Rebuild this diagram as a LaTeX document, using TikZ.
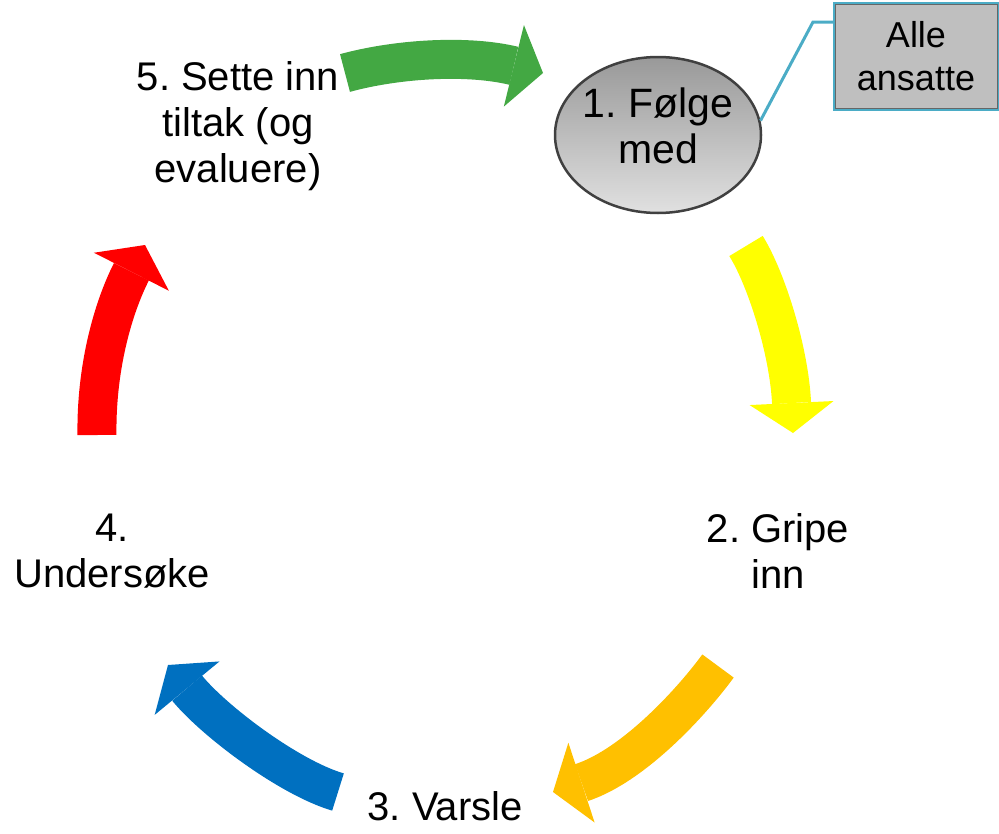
\documentclass[tikz,border=0pt]{standalone}
\usepackage{fontspec}
\setmainfont{Liberation Sans}
\usetikzlibrary{arrows.meta,shapes.geometric}
\definecolor{stepgreen}{HTML}{43A843}
\definecolor{stepyellow}{HTML}{FFFF00}
\definecolor{steporange}{HTML}{FFC000}
\definecolor{stepblue}{HTML}{0070C0}
\definecolor{stepred}{HTML}{FF0000}
\definecolor{calloutblue}{HTML}{4BACC6}
\frenchspacing
\begin{document}
\begin{tikzpicture}[x=1pt,y=-1pt,
	ringarrow/.style={line width=39pt, -{Triangle[length=30pt,width=84pt,line width=0pt]}},
	steptext/.style={align=center, inner sep=0pt, font=\fontsize{40}{46}\selectfont}]%
	\useasboundingbox (0,0) rectangle (999,833);
	\node[ellipse, draw=black!75, line width=2.5pt, top color=black!40, bottom color=black!12,
		minimum width=206pt, minimum height=156pt] (folge) at (658,135) {};
	\node[steptext, font=\fontsize{41}{46}\selectfont] (folgetext) at ([yshift=9pt]folge.center) {1. Følge\\med};
	\node[steptext] (gripe) at (778,551) {2. Gripe\\inn};
	\node[steptext] (varsle) at (445,806) {3. Varsle};
	\node[steptext] (under) at (112,551) {4.\\Undersøke};
	\node[steptext] (sette) at (238,126) {5. Sette inn\\tiltak (og\\evaluere)};
	\node[steptext, font=\fontsize{36}{43}\selectfont, draw=black!60, fill=black!25, line width=1pt,
		preaction={draw=calloutblue, line width=5pt},
		minimum width=162pt, minimum height=104pt] (alle) at (916,56) {Alle\\ansatte};
	\coordinate (knee) at (813,22);
	\draw[calloutblue, line width=3pt] (folge.8) -- (knee) -- (knee -| alle.west);
	% arrow ends
	\coordinate (g0) at (345,73);  \coordinate (g1) at (543,73);
	\coordinate (y0) at (746,246); \coordinate (y1) at (793,433);
	\coordinate (o0) at (718,666); \coordinate (o1) at (553,792);
	\coordinate (b0) at (338,792); \coordinate (b1) at (168,665);
	\coordinate (r0) at (97,435);  \coordinate (r1) at (145,245);
	\draw[ringarrow, stepgreen] (g0) .. controls (400,58) and (470,55) .. (g1);
	\draw[ringarrow, stepyellow] (y0) .. controls (766,278) and (789,350) .. (y1);
	\draw[ringarrow, steporange] (o0) .. controls (694,699) and (635,765) .. (o1);
	\draw[ringarrow, stepblue] (b0) .. controls (290,778) and (215,722) .. (b1);
	\draw[ringarrow, stepred] (r0) .. controls (96,370) and (112,310) .. (r1);
\end{tikzpicture}
\end{document}
